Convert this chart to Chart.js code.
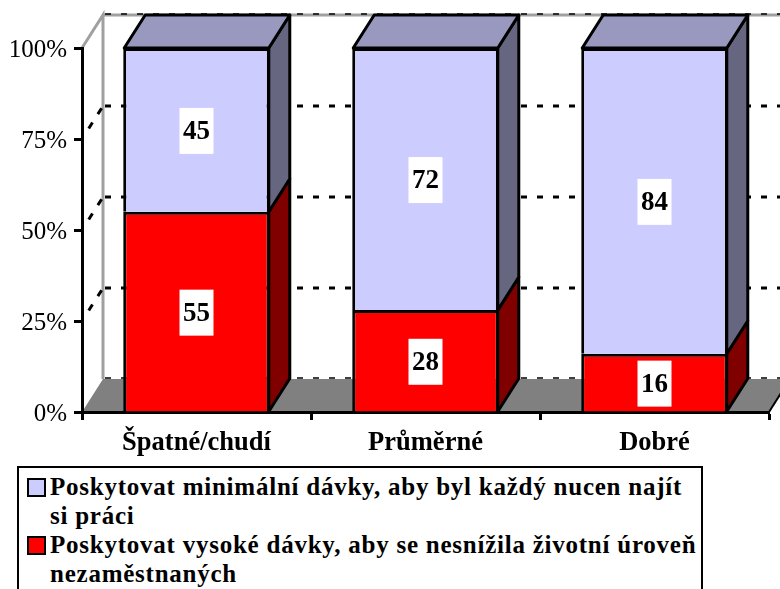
<!DOCTYPE html>
<html lang="cs">
<head>
<meta charset="utf-8">
<title>Dávky podle příjmu</title>
<script src="https://cdn.jsdelivr.net/npm/chart.js@4"></script>
<style>
  html, body { margin: 0; padding: 0; background: #fff; }
  #wrap { position: relative; width: 780px; height: 589px; overflow: hidden; }
  #chart { display: block; }
  #legend {
    position: absolute; left: 17px; top: 466px; width: 682px; height: 140px;
    border: 2px solid #000; background: #fff;
    font: bold 25px "Liberation Serif", serif; letter-spacing: 0.76px; line-height: 29px; color: #000;
  }
  .item { position: relative; padding-left: 31px; width: 652px; }
  .item:first-child { margin-top: 4px; }
  .swatch {
    position: absolute; left: 8px; top: 6px; width: 15px; height: 15px;
    border: 2px solid #000;
  }
</style>
</head>
<body>
<div id="wrap">
  <canvas id="chart" width="780" height="589"></canvas>
  <div id="legend"></div>
</div>
<script>
const categories = ['Špatné/chudí', 'Průměrné', 'Dobré'];
const highBenefits = [55, 28, 16];
const minimalBenefits = [45, 72, 84];
const highLabel = 'Poskytovat vysoké dávky, aby se nesnížila životní úroveň nezaměstnaných';
const minimalLabel = 'Poskytovat minimální dávky, aby byl každý nucen najít si práci';
const yTicks = [0, 25, 50, 75, 100];

const SERIF = '"Liberation Serif", serif';
const DEPTH_X = 21;
const DEPTH_Y = 33;

function poly(c, pts, fill, stroke, lw) {
  c.beginPath();
  pts.forEach(([x, y], i) => (i ? c.lineTo(x, y) : c.moveTo(x, y)));
  c.closePath();
  if (fill) { c.fillStyle = fill; c.fill(); }
  if (stroke) { c.strokeStyle = stroke; c.lineWidth = lw; c.stroke(); }
}

// Back walls, floor and dashed gridlines of the fake 3D box
const boxPlugin = {
  id: 'box',
  beforeDraw(ch) {
    const { ctx: c, chartArea: a, scales: { y } } = ch;
    const backX = a.left + DEPTH_X;
    c.save();
    poly(c, [[a.left, a.bottom], [backX, a.bottom - DEPTH_Y],
      [a.right + DEPTH_X, a.bottom - DEPTH_Y], [a.right, a.bottom]], '#808080', null);

    c.strokeStyle = '#a0a0a0';
    c.lineWidth = 3;
    c.beginPath();
    c.moveTo(a.left, a.top);
    c.lineTo(backX, a.top - DEPTH_Y);
    c.lineTo(backX, a.bottom - DEPTH_Y);
    c.moveTo(backX, a.top - DEPTH_Y);
    c.lineTo(ch.width, a.top - DEPTH_Y);
    c.stroke();

    // right edge of the floor
    c.strokeStyle = '#000';
    c.lineWidth = 2;
    c.beginPath();
    c.moveTo(a.right, a.bottom);
    c.lineTo(a.right + DEPTH_X, a.bottom - DEPTH_Y);
    c.stroke();

    c.strokeStyle = '#000';
    c.setLineDash([6, 10]);
    yTicks.forEach(v => {
      const py = y.getPixelForValue(v) - DEPTH_Y;
      const edge = v === 0 || v === 100;
      c.lineWidth = edge ? 1.5 : 3;
      c.beginPath();
      c.moveTo(backX + 2, edge ? py - 1 : py);
      c.lineTo(ch.width, edge ? py - 1 : py);
      c.stroke();
    });

    // short dashes across the left wall
    c.lineWidth = 3;
    c.setLineDash([7, 10]);
    yTicks.filter(v => v > 0 && v < 100).forEach(v => {
      const py = y.getPixelForValue(v);
      c.beginPath();
      c.moveTo(a.left + DEPTH_X * 0.32, py - DEPTH_Y * 0.32);
      c.lineTo(backX, py - DEPTH_Y);
      c.stroke();
    });
    c.restore();
  },
  // Side and top faces of each bar, from the bar elements themselves
  beforeDatasetsDraw(ch) {
    const c = ch.ctx;
    const faces = ['#800000', '#666680'];
    c.save();
    c.lineJoin = 'round';
    categories.forEach((_, i) => {
      ch.data.datasets.forEach((ds, d) => {
        const el = ch.getDatasetMeta(d).data[i];
        const r = el.x + el.width / 2 - 1;
        const l = el.x - el.width / 2 + 1;
        poly(c, [[r, el.y], [r + DEPTH_X, el.y - DEPTH_Y], [r + DEPTH_X, el.base - DEPTH_Y], [r, el.base]],
          faces[d], '#000', 3);
        if (d === ch.data.datasets.length - 1) {
          poly(c, [[l, el.y], [l + DEPTH_X, el.y - DEPTH_Y], [r + DEPTH_X, el.y - DEPTH_Y], [r, el.y]],
            '#9999C0', '#000', 3);
        }
      });
    });
    c.restore();
  },
  // White value tags in the middle of each bar
  afterDatasetsDraw(ch) {
    const c = ch.ctx;
    c.save();
    c.font = 'bold 27px ' + SERIF;
    c.textAlign = 'center';
    c.textBaseline = 'middle';
    ch.data.datasets.forEach((ds, d) => {
      ch.getDatasetMeta(d).data.forEach((el, i) => {
        const mid = (el.y + el.base) / 2;
        c.fillStyle = '#fff';
        c.fillRect(el.x - 17, mid - 22, 34, 46);
        c.fillStyle = '#000';
        c.fillText(String(ds.data[i]), el.x, mid + 2);
      });
    });
    c.restore();
  },
};

new Chart(document.getElementById('chart'), {
  type: 'bar',
  plugins: [boxPlugin],
  data: {
    labels: categories,
    datasets: [
      { label: highLabel, data: highBenefits, backgroundColor: '#FF0000' },
      { label: minimalLabel, data: minimalBenefits, backgroundColor: '#CCCCFF' },
    ].map(ds => ({ ...ds, borderColor: '#000', borderWidth: 3, borderSkipped: 'start', barPercentage: 1, categoryPercentage: 0.64 })),
  },
  options: {
    responsive: false,
    animation: false,
    layout: { padding: { top: 48, right: 11, left: 0, bottom: 0 } },
    plugins: { legend: { display: false }, tooltip: { enabled: false } },
    scales: {
      x: {
        stacked: true,
        z: 1,
        afterFit: s => { s.height = 177; },
        grid: { drawOnChartArea: false, tickLength: 8, tickColor: '#000', tickWidth: 3 },
        border: { color: '#000', width: 3 },
        ticks: { color: '#000', font: { family: SERIF, size: 26.5, weight: 'bold' }, padding: 7, maxRotation: 0 },
      },
      y: {
        stacked: true,
        min: 0,
        max: 100,
        afterFit: s => { s.width = 82; },
        afterBuildTicks: s => { s.ticks = yTicks.map(value => ({ value })); },
        grid: { drawOnChartArea: false, tickLength: 8, tickColor: '#000', tickWidth: 3 },
        border: { color: '#000', width: 3 },
        ticks: { color: '#000', font: { family: SERIF, size: 25 }, padding: 7, labelOffset: 2, callback: v => `${v}%` },
      },
    },
  },
});

// Legend box runs off the bottom of the page, as in the original
const legend = document.getElementById('legend');
[[minimalLabel, '#CCCCFF'], [highLabel, '#FF0000']].forEach(([text, color]) => {
  const item = document.createElement('div');
  item.className = 'item';
  const swatch = document.createElement('span');
  swatch.className = 'swatch';
  swatch.style.background = color;
  item.append(swatch, text);
  legend.append(item);
});
</script>
</body>
</html>
